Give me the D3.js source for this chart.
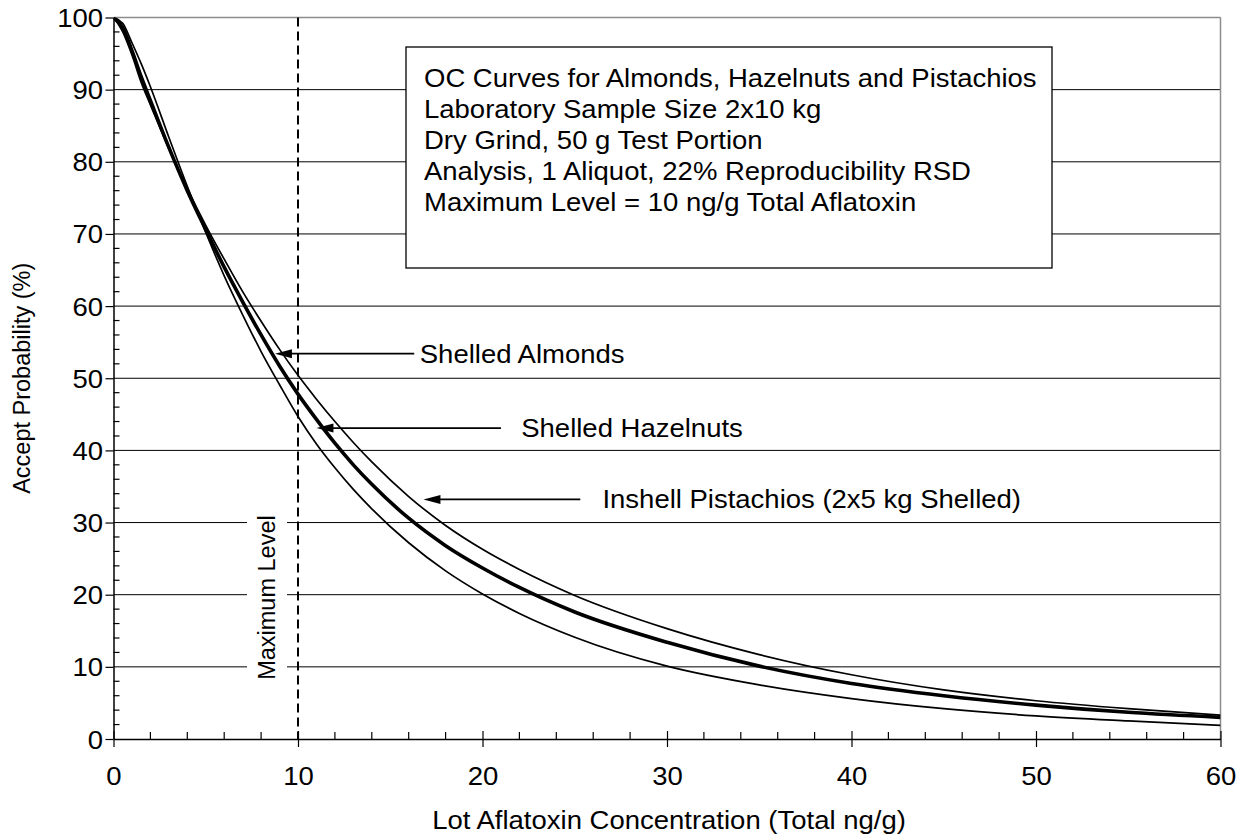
<!DOCTYPE html>
<html>
<head>
<meta charset="utf-8">
<script src="https://cdn.jsdelivr.net/npm/d3@7/dist/d3.min.js"></script>
<style>
  html, body { margin: 0; padding: 0; background: #fff; }
  svg { display: block; }
  text { font-family: "Liberation Sans", Arial, sans-serif; fill: #000; }
</style>
</head>
<body>
<svg id="chart" width="1247" height="838"></svg>
<script>
// ---------------- DATA ----------------
const xValues = [0, 0.5, 1, 1.5, 2, 3, 4, 5, 6, 7, 8, 9, 10, 11, 12, 13, 14, 16, 18, 20, 22, 25, 30, 35, 40, 45, 50, 55, 60];

// lower thin curve
const curveLower = [100, 99.2, 96.5, 93.6, 90.4, 83.4, 76.6, 70.2, 64.2, 58.8, 53.7, 49.1, 44.7, 40.9, 37.6, 34.6, 31.9, 27.2, 23.3, 20.1, 17.4, 14.1, 10.1, 7.5, 5.6, 4.2, 3.2, 2.5, 1.9];
// thick middle curve
const curveMiddle = [100, 98.6, 95.4, 91.8, 88.5, 82.0, 76.0, 70.6, 65.4, 60.6, 56.0, 51.7, 47.8, 44.3, 41.0, 38.0, 35.3, 30.6, 26.8, 23.7, 21.0, 17.6, 13.4, 10.1, 7.7, 6.0, 4.7, 3.7, 3.0];
// upper thin curve
const curveUpper = [100, 98.0, 94.8, 91.0, 87.9, 81.8, 76.3, 71.2, 66.5, 62.0, 57.9, 54.0, 50.4, 47.1, 44.0, 41.1, 38.4, 33.6, 29.6, 26.3, 23.5, 19.9, 15.3, 11.7, 8.9, 6.8, 5.3, 4.2, 3.3];

const xTicks = [0, 10, 20, 30, 40, 50, 60];
const yTicks = [0, 10, 20, 30, 40, 50, 60, 70, 80, 90, 100];
const maxLevel = 10;

const boxLines = [
  "OC Curves for Almonds, Hazelnuts and Pistachios",
  "Laboratory Sample Size 2x10 kg",
  "Dry Grind, 50 g Test Portion",
  "Analysis, 1 Aliquot, 22% Reproducibility RSD",
  "Maximum Level = 10 ng/g Total Aflatoxin"
];

const labels = ["Shelled Almonds", "Shelled Hazelnuts", "Inshell Pistachios (2x5 kg Shelled)"];
// arrow: tip x, tail x, y (data units), label x
const arrowTipX = [8.75, 11.0, 16.8];
const arrowTailX = [16.3, 21.0, 25.3];
const arrowY = [53.4, 43.1, 33.2];
const labelX = [16.6, 22.1, 26.5];

// ---------------- LAYOUT ----------------
const svg = d3.select("#chart");
const mLeft = 113.5, mRight = 1220.5, mTop = 17.5, mBottom = 739;
const x = d3.scaleLinear().domain([0, 60]).range([mLeft, mRight]);
const y = d3.scaleLinear().domain([0, 100]).range([mBottom, mTop]);
const FS = 25, SX = 1.1, FSV = 23.5;

function htext(parent, tx, ty, str, anchor) {
  return parent.append("text")
    .attr("transform", `translate(${tx},${ty}) scale(${SX},1)`)
    .attr("text-anchor", anchor || "start")
    .attr("font-size", FS).text(str);
}

svg.append("defs").append("clipPath").attr("id", "clip")
  .append("rect").attr("x", mLeft).attr("y", mTop).attr("width", mRight - mLeft).attr("height", mBottom - mTop);

// gridlines
svg.append("g").selectAll("line").data(yTicks.filter(d => d > 0 && d < 100)).join("line")
  .attr("x1", mLeft).attr("x2", mRight)
  .attr("y1", d => y(d)).attr("y2", d => y(d))
  .attr("stroke", "#000").attr("stroke-width", 1);

// plot border top/right gray
svg.append("line").attr("x1", mLeft).attr("x2", mRight).attr("y1", y(100)).attr("y2", y(100))
  .attr("stroke", "#8c8c8c").attr("stroke-width", 1.5);
svg.append("line").attr("x1", mRight).attr("x2", mRight).attr("y1", mTop).attr("y2", mBottom)
  .attr("stroke", "#8c8c8c").attr("stroke-width", 1.5);

// Maximum level label background + text
const mlCx = x(maxLevel) - 31, mlCy = y(19.6);
svg.append("rect").attr("x", mlCx - 20).attr("y", mlCy - 90).attr("width", 40).attr("height", 180)
  .attr("fill", "#fff");
svg.append("text").attr("transform", `translate(${mlCx + 8},${mlCy}) rotate(-90)`)
  .attr("text-anchor", "middle").attr("font-size", FSV).text("Maximum Level");

// dashed max level line
svg.append("line").attr("x1", x(maxLevel)).attr("x2", x(maxLevel)).attr("y1", y(100)).attr("y2", y(0))
  .attr("stroke", "#000").attr("stroke-width", 2).attr("stroke-dasharray", "9,5");

// axes
const xAxis = d3.axisBottom(x).tickValues(xTicks).tickSizeInner(8).tickSizeOuter(0);
const gx = svg.append("g").attr("transform", `translate(0,${mBottom})`).call(xAxis);
gx.select(".domain").attr("stroke", "#000").attr("stroke-width", 1.5);
gx.selectAll(".tick line").attr("stroke", "#000").attr("y1", -8).attr("stroke-width", 1.2);
gx.selectAll(".tick text").attr("font-size", FS).attr("font-family", "Liberation Sans, Arial, sans-serif")
  .attr("y", 46).attr("dy", 0).attr("fill", "#000").attr("transform", `scale(${SX},1)`);

const yAxis = d3.axisLeft(y).tickValues(yTicks).tickSizeInner(8).tickSizeOuter(0);
const gy = svg.append("g").attr("transform", `translate(${mLeft},0)`).call(yAxis);
gy.select(".domain").attr("stroke", "#000").attr("stroke-width", 1.5);
gy.selectAll(".tick line").attr("stroke", "#000").attr("stroke-width", 1.2);
gy.selectAll(".tick text").attr("font-size", FS).attr("font-family", "Liberation Sans, Arial, sans-serif")
  .attr("x", 0).attr("dy", "0.36em").attr("fill", "#000")
  .attr("transform", `translate(-10.5,0) scale(${SX},1)`);

// minor ticks (inside)
const xMinor = d3.range(0, 61, 2).filter(d => d % 10 !== 0);
svg.append("g").selectAll("line").data(xMinor).join("line")
  .attr("x1", d => x(d)).attr("x2", d => x(d)).attr("y1", mBottom).attr("y2", mBottom - 7)
  .attr("stroke", "#000").attr("stroke-width", 1.2);
const yMinor = d3.range(0, 101, 2).filter(d => d % 10 !== 0);
svg.append("g").selectAll("line").data(yMinor).join("line")
  .attr("x1", mLeft).attr("x2", mLeft + 6).attr("y1", d => y(d)).attr("y2", d => y(d))
  .attr("stroke", "#000").attr("stroke-width", 1.2);

// curves
const line = d3.line().x(d => x(d[0])).y(d => y(d[1])).curve(d3.curveMonotoneX);
const series = [
  { v: curveLower, w: 1.7 },
  { v: curveUpper, w: 1.7 },
  { v: curveMiddle, w: 3.6 }
];
svg.append("g").attr("clip-path", "url(#clip)").selectAll("path").data(series).join("path")
  .attr("d", s => line(xValues.map((xv, i) => [xv, s.v[i]])))
  .attr("fill", "none").attr("stroke", "#000").attr("stroke-width", s => s.w)
  .attr("stroke-linejoin", "round");

// arrows
const ag = svg.append("g");
labels.forEach((lab, i) => {
  const tx = x(arrowTipX[i]), ty = y(arrowY[i]);
  ag.append("line").attr("x1", tx + 10).attr("x2", x(arrowTailX[i])).attr("y1", ty).attr("y2", ty)
    .attr("stroke", "#000").attr("stroke-width", 1.8);
  ag.append("path").attr("d", `M${tx},${ty} L${tx + 17},${ty - 4.5} L${tx + 17},${ty + 4.5} Z`).attr("fill", "#000");
  htext(ag, x(labelX[i]), ty + 9, lab);
});

// text box
const bx = 406, by = 47, bw = 646, bh = 221;
svg.append("rect").attr("x", bx).attr("y", by).attr("width", bw).attr("height", bh)
  .attr("fill", "#fff").attr("stroke", "#000").attr("stroke-width", 1.3);
const tg = svg.append("g");
boxLines.forEach((s, i) => htext(tg, bx + 18, by + 39.5 + i * 31, s));

// axis titles
htext(svg, (mLeft + mRight) / 2 + 2, 829, "Lot Aflatoxin Concentration (Total ng/g)", "middle");
svg.append("text").attr("transform", `translate(30,${(mTop + mBottom) / 2}) rotate(-90)`)
  .attr("text-anchor", "middle").attr("font-size", FSV).text("Accept Probability (%)");
</script>
</body>
</html>
